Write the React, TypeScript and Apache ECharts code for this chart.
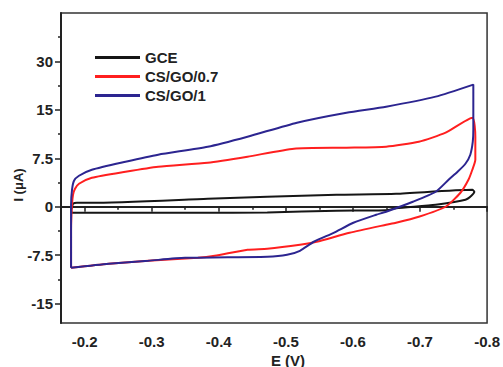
import React, { useEffect, useRef } from "react";
import * as echarts from "echarts";

const seriesNames = ["GCE", "CS/GO/0.7", "CS/GO/1"];
const seriesColors = ["#161616", "#ff1f1f", "#2c2590"];

const xTicks = [-0.8, -0.7, -0.6, -0.5, -0.4, -0.3, -0.2];
const xMinorTicks = [-0.75, -0.65, -0.55, -0.45, -0.35, -0.25];
const yTickValues = [-15, -7.5, 0, 7.5, 15, 22.5];
const yTickLabels = ["-15", "-7.5", "0", "7.5", "15", "30"];
const yMinorTicks = [-11.25, -3.75, 3.75, 11.25, 18.75, 26.25];

const gceE = [-0.1812, -0.1827, -0.1886, -0.2108, -0.3836, -0.4723, -0.5756, -0.6643, -0.778, -0.781, -0.7766, -0.7677, -0.7234, -0.6643, -0.6495, -0.5756, -0.4723, -0.3688, -0.1812, -0.1798, -0.1812];
const gceI = [-0.15, 0.46, 0.62, 0.62, 1.24, 1.55, 1.86, 2.01, 2.63, 2.32, 1.7, 1.08, 0.31, -0.23, -0.54, -0.62, -0.88, -0.93, -0.93, -0.46, -0.15];

const go07E = [-0.1798, -0.1798, -0.1812, -0.1827, -0.1857, -0.1916, -0.2108, -0.261, -0.3097, -0.3836, -0.4428, -0.5121, -0.5904, -0.6495, -0.6982, -0.7382, -0.778, -0.7825, -0.7825, -0.778, -0.7722, -0.7603, -0.7382, -0.6982, -0.6643, -0.6495, -0.5949, -0.546, -0.521, -0.4723, -0.4428, -0.394, -0.3688, -0.295, -0.236, -0.1798];
const go07I = [-9.45, -3.56, 0.31, 1.86, 2.79, 3.56, 4.49, 5.42, 6.2, 6.82, 7.75, 8.99, 9.14, 9.3, 10.07, 11.47, 13.79, 10.85, 7.28, 5.73, 4.18, 2.17, 0, -1.55, -2.48, -2.79, -4.03, -5.42, -5.89, -6.51, -6.66, -7.59, -7.9, -8.37, -8.83, -9.45];

const go1E = [-0.1798, -0.1798, -0.1798, -0.1812, -0.1842, -0.1916, -0.2108, -0.261, -0.3097, -0.3836, -0.4428, -0.5166, -0.5904, -0.6495, -0.7234, -0.7795, -0.7795, -0.7795, -0.7787, -0.775, -0.7677, -0.756, -0.7426, -0.7234, -0.6894, -0.6495, -0.6347, -0.6007, -0.5712, -0.5417, -0.521, -0.5018, -0.4723, -0.4132, -0.3688, -0.3496, -0.295, -0.236, -0.1798];
const go1I = [-9.45, -3.56, 0.31, 2.63, 4.03, 4.8, 5.73, 6.97, 8.06, 9.3, 10.85, 13.02, 14.57, 15.5, 17.05, 18.91, 15.2, 11.93, 10.07, 8.06, 6.66, 5.42, 4.18, 2.32, 0.77, -0.77, -1.24, -2.48, -4.03, -5.42, -6.82, -7.44, -7.75, -7.83, -7.9, -7.9, -8.37, -8.83, -9.45];

const zip = (a: number[], b: number[]) => a.map((v, i) => [v, b[i]]);

const FONT = "Liberation Sans, Arial, sans-serif";
const TXT = "#222";

export default function App() {
  const ref = useRef<HTMLDivElement>(null);
  useEffect(() => {
    if (!ref.current) return;
    const chart = echarts.init(ref.current, undefined, { renderer: "svg" });
    const xBase = { type: "value", min: -0.8, max: -0.1648, inverse: true, splitLine: { show: false } };
    const yBase = { type: "value", min: -18, max: 30, splitLine: { show: false } };
    const datas = [zip(gceE, gceI), zip(go07E, go07I), zip(go1E, go1I)];
    chart.setOption({
      animation: false,
      backgroundColor: "#fff",
      grid: { left: 61, right: 12, top: 13, bottom: 44, show: true, borderColor: "#333", borderWidth: 1.5, backgroundColor: "transparent" },
      legend: {
        orient: "vertical",
        left: 90,
        top: 44,
        icon: "rect",
        itemWidth: 45,
        itemHeight: 3,
        itemGap: 2,
        textStyle: { fontFamily: FONT, fontWeight: "bold", fontSize: 15, color: TXT, lineHeight: 17 },
        data: seriesNames,
      },
      xAxis: [
        {
          ...xBase,
          position: "bottom",
          axisLine: { show: true, lineStyle: { color: "#222", width: 2 } },
          axisTick: { show: true, inside: false, length: 5, lineStyle: { color: "#222", width: 1.5 }, customValues: xTicks },
          axisLabel: {
            show: true, margin: 11, fontFamily: FONT, fontWeight: "bold", fontSize: 15, color: TXT,
            customValues: xTicks,
            formatter: (v: number) => v.toFixed(1),
          },
        },
        {
          ...xBase,
          position: "bottom",
          axisLine: { show: false },
          axisTick: { show: true, inside: false, length: 3, lineStyle: { color: "#222", width: 1.5 }, customValues: xMinorTicks },
          axisLabel: { show: false },
        },
      ],
      yAxis: [
        {
          ...yBase,
          position: "left",
          axisLine: { show: true, lineStyle: { color: "#222", width: 2 } },
          axisTick: { show: true, inside: false, length: 6, lineStyle: { color: "#222", width: 1.5 }, customValues: yTickValues },
          axisLabel: {
            show: true, margin: 8, fontFamily: FONT, fontWeight: "bold", fontSize: 15, color: TXT,
            customValues: yTickValues,
            formatter: (v: number) => {
              const i = yTickValues.findIndex((t) => Math.abs(t - v) < 1e-6);
              return i >= 0 ? yTickLabels[i] : "";
            },
          },
        },
        {
          ...yBase,
          position: "left",
          offset: 0,
          axisLine: { show: false },
          axisTick: { show: true, inside: false, length: 3, lineStyle: { color: "#222", width: 1.5 }, customValues: yMinorTicks },
          axisLabel: { show: false },
        },
      ],
      graphic: [
        { type: "text", x: 18, y: 185, rotation: Math.PI / 2, style: { text: "I (μA)", fontFamily: FONT, fontWeight: "bold", fontSize: 13, fill: TXT, align: "center", verticalAlign: "middle" } },
        { type: "text", x: 288, y: 360, style: { text: "E (V)", fontFamily: FONT, fontWeight: "bold", fontSize: 15, fill: TXT, align: "center", verticalAlign: "middle" } },
      ],
      series: seriesNames.map((name, i) => ({
        name,
        type: "line",
        xAxisIndex: 0,
        yAxisIndex: 0,
        data: datas[i],
        showSymbol: false,
        smooth: 0.2,
        color: seriesColors[i],
        lineStyle: { color: seriesColors[i], width: 2 },
        z: 2 + i,
      })),
    });
    return () => chart.dispose();
  }, []);
  return <div ref={ref} style={{ width: 503, height: 367, position: "absolute", left: 0, top: 0 }} />;
}
